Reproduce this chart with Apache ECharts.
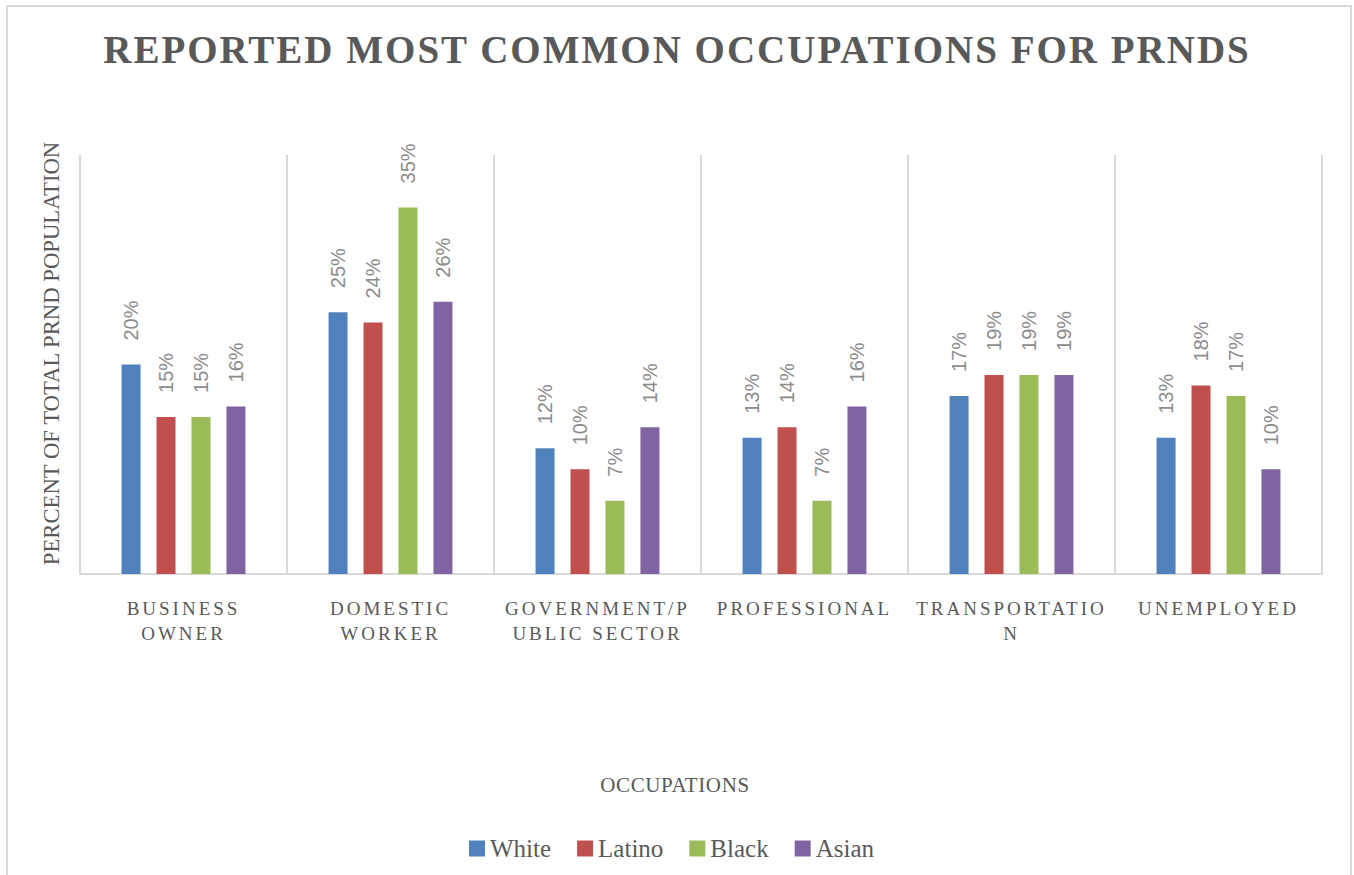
<!DOCTYPE html>
<html>
<head>
<meta charset="utf-8">
<script src="https://cdn.jsdelivr.net/npm/echarts@6/dist/echarts.min.js"></script>
<style>
  html, body { margin: 0; padding: 0; background: #fff; }
  #main { width: 1354px; height: 875px; }
</style>
</head>
<body>
<div id="main"></div>
<script>
// occupations on the x axis, tick labels wrap like the original
var categories = ["Business Owner", "Domestic Worker", "Government/Public Sector", "Professional", "Transportation", "Unemployed"];
var tickLabels = ["BUSINESS\nOWNER", "DOMESTIC\nWORKER", "GOVERNMENT/P\nUBLIC SECTOR", "PROFESSIONAL", "TRANSPORTATIO\nN", "UNEMPLOYED"];

// percent of total PRND population
var white  = [20, 25, 12, 13, 17, 13];
var latino = [15, 24, 10, 14, 19, 18];
var black  = [15, 35, 7, 7, 19, 17];
var asian  = [16, 26, 14, 16, 19, 10];

var titleText = "REPORTED MOST COMMON OCCUPATIONS FOR PRNDS";

var serif = "'Liberation Serif', 'DejaVu Serif', serif";
var textGray = "#595959";
var lineGray = "#d9d9d9";

function barSeries(name, data, color) {
  return {
    name: name,
    type: "bar",
    data: data,
    barWidth: 19,
    barGap: "84%",
    itemStyle: { color: color },
    label: {
      show: true,
      position: "top",
      rotate: 90,
      align: "left",
      verticalAlign: "middle",
      distance: 20,
      offset: [4, 0],
      formatter: "{c}%",
      color: "#8c8c8c",
      fontFamily: "'Liberation Sans', Arial, sans-serif",
      fontSize: 20
    }
  };
}

var myChart = echarts.init(document.getElementById("main"), null, { renderer: "svg" });

var option = {
  animation: false,
  backgroundColor: "#fff",
  title: {
    text: titleText,
    left: "center",
    top: 25,
    textStyle: { fontFamily: serif, fontWeight: "bold", fontSize: 39, color: textGray }
  },
  legend: {
    left: 464,
    top: 831,
    itemWidth: 16,
    itemHeight: 16,
    itemGap: 26,
    icon: "rect",
    textStyle: { fontFamily: serif, fontSize: 25, color: textGray }
  },
  grid: { left: 80, right: 32, top: 155, bottom: 301 },
  xAxis: {
    type: "category",
    data: categories,
    name: "OCCUPATIONS",
    nameLocation: "middle",
    nameGap: 200,
    nameTextStyle: { fontFamily: serif, fontSize: 21, color: textGray, padding: [0, 52, 0, 0] },
    axisLine: { lineStyle: { color: lineGray, width: 2 } },
    axisTick: { show: false },
    splitLine: { show: true, lineStyle: { color: lineGray, width: 2 } },
    axisLabel: {
      interval: 0,
      margin: 22,
      lineHeight: 25,
      fontFamily: serif,
      fontSize: 19,
      color: textGray,
      formatter: function (v, i) { return tickLabels[i]; }
    }
  },
  yAxis: {
    type: "value",
    min: 0,
    max: 40,
    name: "PERCENT OF TOTAL PRND POPULATION",
    nameLocation: "middle",
    nameGap: 17,
    nameTextStyle: { fontFamily: serif, fontSize: 22.7, color: textGray, padding: [0, 0, 0, 22] },
    axisLine: { show: false },
    axisTick: { show: false },
    axisLabel: { show: false },
    splitLine: { show: false }
  },
  graphic: [{
    type: "rect",
    shape: { x: 7, y: 6, width: 1344, height: 890 },
    style: { fill: "none", stroke: lineGray, lineWidth: 2 },
    silent: true
  }],
  series: [
    barSeries("White", white, "#4f81bd"),
    barSeries("Latino", latino, "#c0504d"),
    barSeries("Black", black, "#9bbb59"),
    barSeries("Asian", asian, "#8064a2")
  ]
};

myChart.setOption(option);

// Office-style spaced caps on the title and the category labels
var spaced = {};
spaced[titleText] = "2px";
tickLabels.forEach(function (t) {
  t.split("\n").forEach(function (l) { spaced[l] = "3px"; });
});
spaced["OCCUPATIONS"] = "0.6px";

function applySpacing() {
  var texts = document.querySelectorAll("#main text");
  texts.forEach(function (el) {
    var s = spaced[el.textContent];
    if (s) el.setAttribute("letter-spacing", s);
  });
}
applySpacing();
myChart.on("finished", applySpacing);
</script>
</body>
</html>
